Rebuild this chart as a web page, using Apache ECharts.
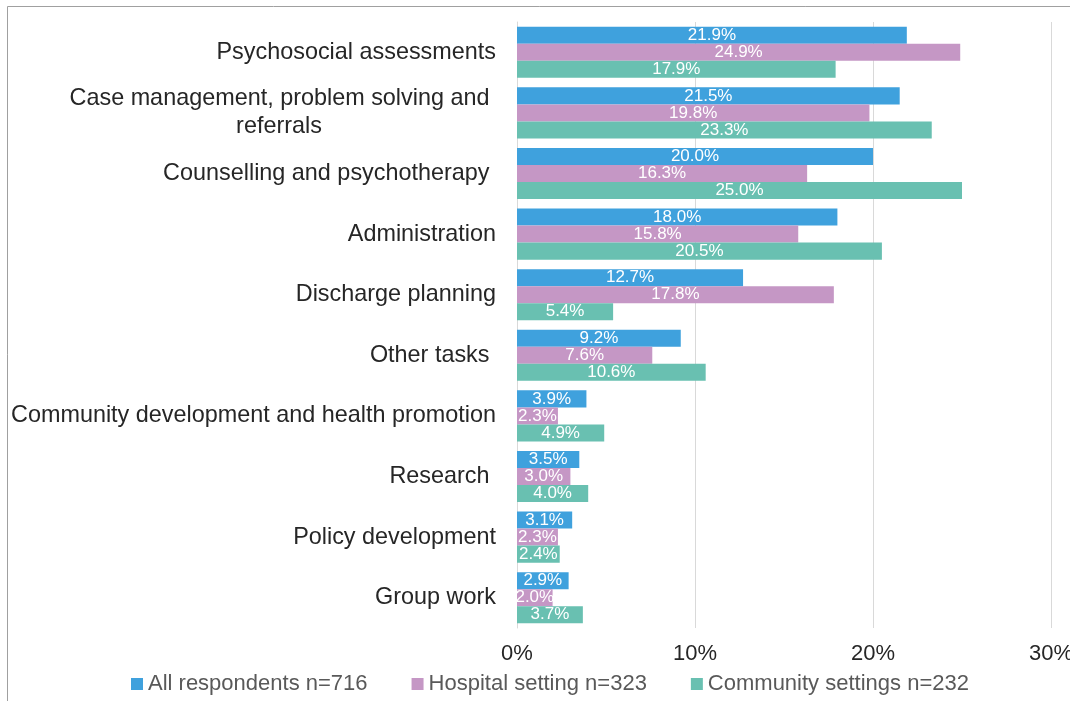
<!DOCTYPE html>
<html>
<head>
<meta charset="utf-8">
<script src="https://cdn.jsdelivr.net/npm/echarts@6/dist/echarts.min.js"></script>
<style>
html,body{margin:0;padding:0;background:#fff;}
#chart{width:1070px;height:701px;}
</style>
</head>
<body>
<div id="chart"></div>
<script>
const categories = [
  "Psychosocial assessments",
  "Case management, problem solving and \nreferrals",
  "Counselling and psychotherapy ",
  "Administration",
  "Discharge planning",
  "Other tasks ",
  "Community development and health promotion",
  "Research ",
  "Policy development",
  "Group work"
];
const seriesNames = ["All respondents n=716", "Hospital setting n=323", "Community settings n=232"];
const allRespondents = [21.9, 21.5, 20.0, 18.0, 12.7, 9.2, 3.9, 3.5, 3.1, 2.9];
const hospitalSetting = [24.9, 19.8, 16.3, 15.8, 17.8, 7.6, 2.3, 3.0, 2.3, 2.0];
const communitySettings = [17.9, 23.3, 25.0, 20.5, 5.4, 10.6, 4.9, 4.0, 2.4, 3.7];
const xTicks = [0, 10, 20, 30];

const colors = ["#3FA1DD", "#C597C5", "#69C0B1"];
const FONT = "Liberation Sans, Arial, sans-serif";

function mkSeries(name, data, color) {
  return {
    name: name,
    type: "bar",
    data: data,
    barGap: "0%",
    barCategoryGap: "15.7%",
    itemStyle: { color: color },
    label: {
      show: true,
      position: "inside",
      color: "#fff",
      fontSize: 17,
      fontFamily: FONT,
      formatter: function (p) { return p.value.toFixed(1) + "%"; }
    },
    emphasis: { disabled: true }
  };
}

const chart = echarts.init(document.getElementById("chart"), null, { renderer: "canvas" });
chart.setOption({
  animation: false,
  backgroundColor: "#fff",
  textStyle: { fontFamily: FONT },
  graphic: [{
    type: "rect",
    shape: { x: 7.5, y: 6.5, width: 1200, height: 900 },
    style: { fill: "none", stroke: "#A0A0A0", lineWidth: 1 },
    silent: true, z: -10
  }],
  grid: { left: 517, right: 19, top: 22, bottom: 73, containLabel: false, outerBoundsMode: "none" },
  legend: {
    left: 126,
    top: 668,
    itemWidth: 12,
    itemHeight: 12,
    itemGap: 44,
    icon: "rect",
    textStyle: { fontSize: 22, color: "#595959", fontFamily: FONT },
    data: seriesNames
  },
  xAxis: {
    type: "value",
    min: xTicks[0],
    max: xTicks[xTicks.length - 1],
    interval: 10,
    axisLine: { show: false },
    axisTick: { show: false },
    splitLine: { show: true, lineStyle: { color: "#D9D9D9", width: 1 } },
    axisLabel: {
      margin: 15,
      fontSize: 22,
      color: "#262626",
      fontFamily: FONT,
      formatter: "{value}%",
      hideOverlap: false
    }
  },
  yAxis: {
    type: "category",
    inverse: true,
    data: categories,
    axisTick: { show: false },
    axisLine: { show: true, lineStyle: { color: "#D9D9D9", width: 1 } },
    axisLabel: {
      interval: 0,
      margin: 21,
      fontSize: 23.4,
      color: "#262626",
      fontFamily: FONT,
      lineHeight: 28,
      formatter: function (v) {
        if (v.indexOf("\n") >= 0) {
          const parts = v.split("\n");
          return "{a|" + parts[0] + "}\n{b|" + parts[1] + "}";
        }
        return v;
      },
      rich: {
        a: { align: "right", fontSize: 23.4, color: "#262626", fontFamily: FONT, lineHeight: 28 },
        b: { width: 434, align: "center", fontSize: 23.4, color: "#262626", fontFamily: FONT, lineHeight: 28 }
      }
    }
  },
  series: [
    mkSeries(seriesNames[0], allRespondents, colors[0]),
    mkSeries(seriesNames[1], hospitalSetting, colors[1]),
    mkSeries(seriesNames[2], communitySettings, colors[2])
  ]
});
</script>
</body>
</html>
